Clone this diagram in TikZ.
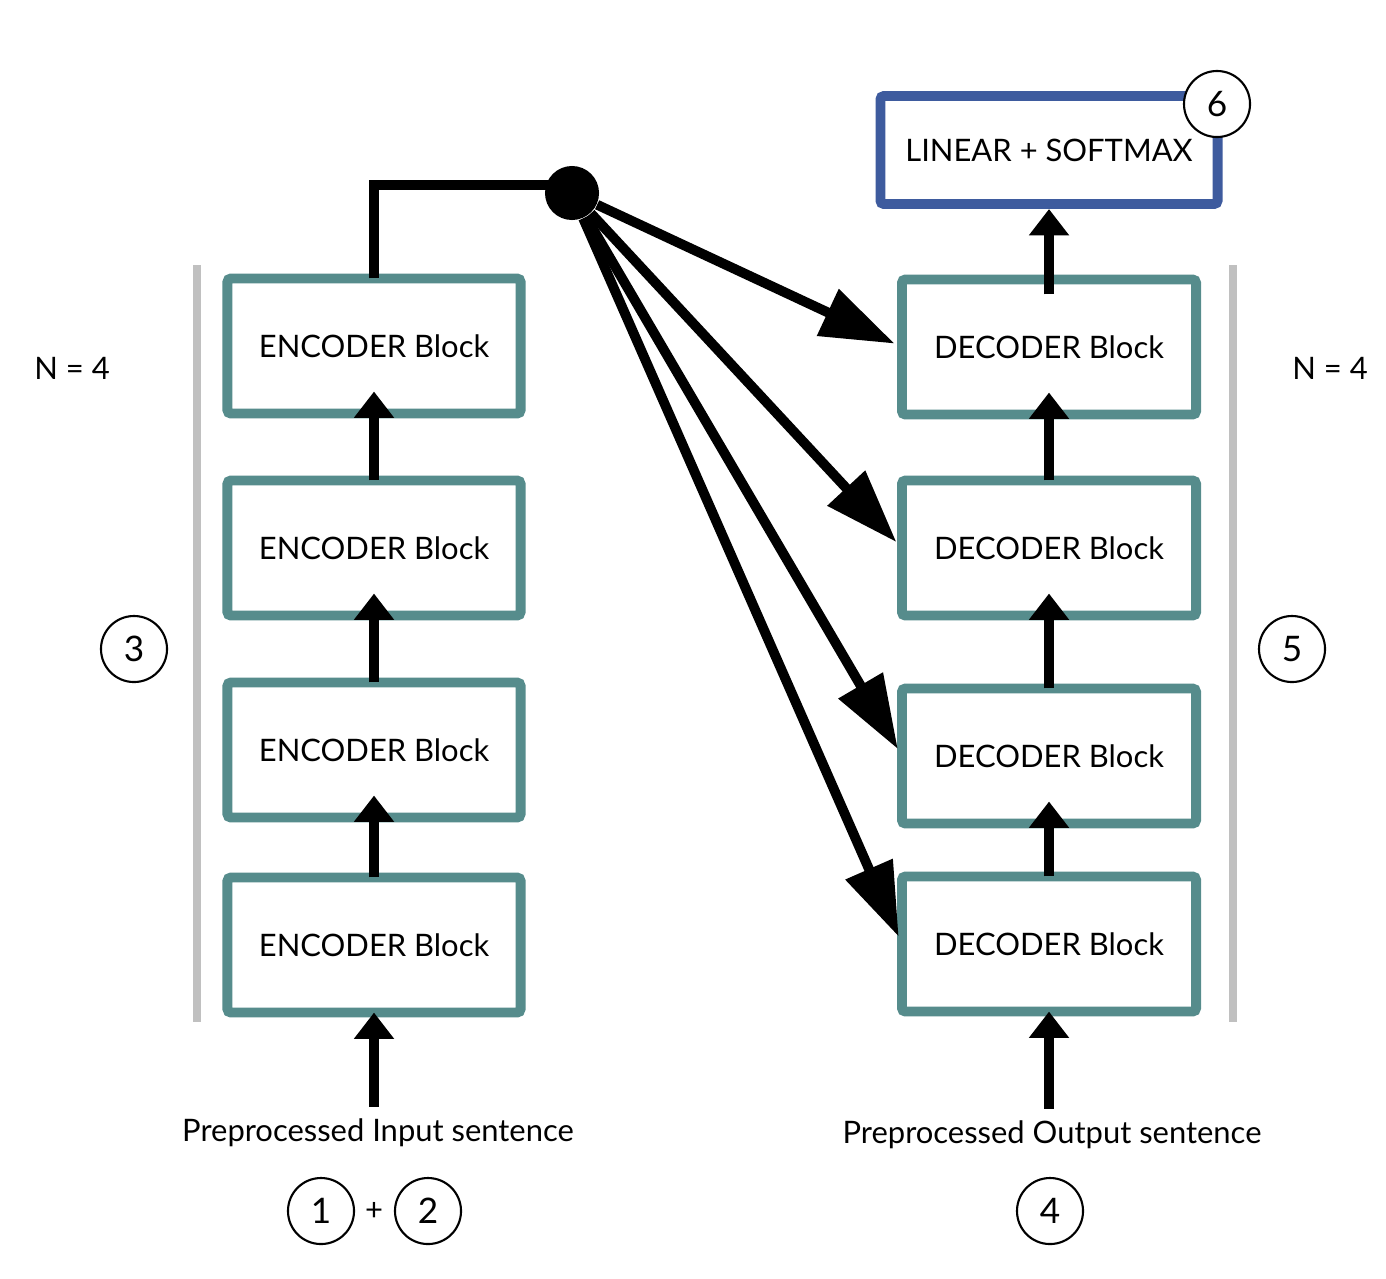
\documentclass[tikz,border=0pt]{standalone}
\usepackage{fontspec}
\setmainfont{Lato}
\usepackage{tikz}
\usetikzlibrary{positioning, arrows.meta, calc}
\definecolor{encteal}{RGB}{86,140,140}
\definecolor{linblue}{RGB}{62,91,158}
\definecolor{bargray}{RGB}{192,192,192}

\begin{document}
\begin{tikzpicture}[x=0.01cm, y=-0.01cm,
  block/.style={draw=encteal, line width=2.8pt, rounded corners=1pt, minimum width=2.93cm,
    minimum height=1.35cm, outer sep=0pt, font=\fontsize{8.8}{11}\selectfont},
  flow/.style={line width=2.8pt, -{Triangle[length=7.5pt, width=11pt]}},
  feed/.style={line width=2.8pt, -{Triangle[length=21pt, width=14pt]}},
  num/.style={draw, circle, line width=0.6pt, fill=white, minimum size=0.66cm, inner sep=0pt,
    font=\fontsize{10}{12}\selectfont},
  lbl/.style={font=\fontsize{8.8}{11}\selectfont},
  bar/.style={draw=bargray, line width=2.5pt}]
\useasboundingbox (0,0) rectangle (1386,1278);

% Encoder stack
\foreach \i/\y in {1/346, 2/548, 3/750, 4/945}
  \node[block] (enc\i) at (374,\y) {ENCODER Block};

% Decoder stack
\foreach \i/\y in {1/347, 2/548, 3/756, 4/944}
  \node[block, minimum width=2.94cm] (dec\i) at (1049,\y) {DECODER Block};

% Output layer
\node[block, draw=linblue, minimum width=3.37cm, minimum height=1.08cm] (lin) at (1049,150) {LINEAR + SOFTMAX};
\node[num] (n6) at (1217,104) {6};

% Side bars and labels
\draw[bar] (197,265) -- (197,1022);
\draw[bar] (1233,265) -- (1233,1022);
\node[lbl] (nenc) at (72,368) {N = 4};
\node[lbl] (ndec) at (1330,368) {N = 4};
\node[num] (n3) at (134,649) {3};
\node[num] (n5) at (1292,649) {5};

% Inputs
\node[lbl] (inp) at (378,1133) {Preprocessed Input sentence};
\node[lbl] (outp) at (1052,1135) {Preprocessed Output sentence};
\node[num] (n1) at (321,1211) {1};
\node[lbl] (plus) at (374,1211) {+};
\node[num] (n2) at (428,1211) {2};
\node[num] (n4) at (1050,1211) {4};

% Connections
\node[circle, fill, minimum size=0.54cm, inner sep=0pt] (dot) at (572,193) {};
\draw[flow] (enc4.south |- inp.north) -- (enc4.south);
\draw[flow] (dec4.south |- outp.north) -- (dec4.south);
\foreach \a/\b in {4/3, 3/2, 2/1} {
  \draw[flow] (enc\a.north) -- ([yshift=0.22cm]enc\b.south);
  \draw[flow] (dec\a.north) -- ([yshift=0.22cm]dec\b.south);
}
\draw[flow, shorten <=-0.15cm, shorten >=0.05cm] (dec1.north) -- (lin.south);
\draw[line width=2.8pt] (enc1.north) |- ([yshift=0.08cm]dot.center);
\foreach \i in {1,...,4}
  \draw[feed, shorten >=0.08cm] (dot) -- (dec\i.west);
\end{tikzpicture}
\end{document}
